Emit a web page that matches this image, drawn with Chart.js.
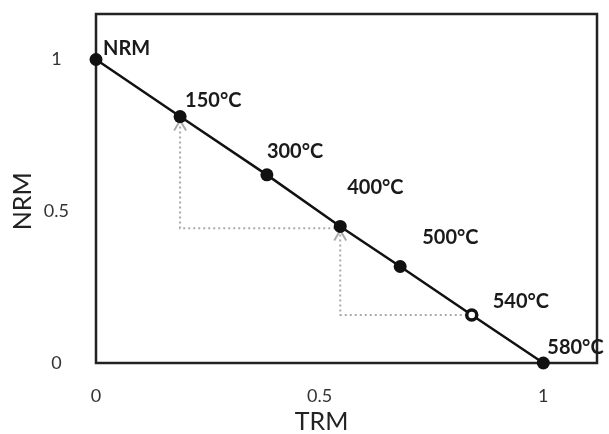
<!DOCTYPE html>
<html>
<head>
<meta charset="utf-8">
<script src="https://cdn.jsdelivr.net/npm/chart.js@4"></script>
<style>
  html, body { margin: 0; padding: 0; background: #fff; }
  #wrap { width: 609px; height: 434px; }
</style>
</head>
<body>
<div id="wrap"><canvas id="arai"></canvas></div>
<script>
// Arai plot: NRM remaining vs TRM gained at each heating step
const steps = ['NRM', '150°C', '300°C', '400°C', '500°C', '540°C', '580°C'];
const trmGained = [0, 0.188, 0.382, 0.546, 0.68, 0.84, 1];
const nrmLeft = [1, 0.812, 0.62, 0.45, 0.318, 0.158, 0];

// pTRM checks (grey dotted paths, arrow at the end)
const check540X = [0.84, 0.546, 0.546];
const check540Y = [0.158, 0.158, 0.45];
const check400X = [0.546, 0.188, 0.188];
const check400Y = [0.444, 0.444, 0.812];

const tickValues = [0, 0.5, 1];

// where each step label sits relative to its point (px)
const labelShift = [[7, -5], [5, -10], [0, -17], [7, -32], [22, -22], [21, -7], [4, -9]];

const FONT = 'Lato, "Open Sans", sans-serif';

function toPoints(xs, ys) {
    return xs.map((v, i) => ({x: v, y: ys[i]}));
}

const decor = {
    id: 'decor',
    beforeDatasetsDraw(chart) {
        const {ctx, chartArea: a, scales: {x, y}} = chart;
        ctx.save();
        ctx.strokeStyle = '#222';
        ctx.lineWidth = 2.5;
        ctx.strokeRect(a.left, a.top, a.right - a.left, a.bottom - a.top);

        // open arrow heads at the top of the check paths
        ctx.strokeStyle = '#aaa';
        ctx.lineWidth = 2;
        [[check540X, check540Y], [check400X, check400Y]].forEach(([xs, ys]) => {
            const px = x.getPixelForValue(xs[xs.length - 1]);
            const py = y.getPixelForValue(ys[ys.length - 1]) + 4;
            ctx.beginPath();
            ctx.moveTo(px - 6, py + 10);
            ctx.lineTo(px, py);
            ctx.lineTo(px + 6, py + 10);
            ctx.stroke();
        });
        ctx.restore();
    },
    afterDatasetsDraw(chart) {
        const {ctx, scales: {x, y}} = chart;
        ctx.save();
        ctx.fillStyle = '#1a1a1a';
        ctx.font = 'bold 20px ' + FONT;
        ctx.textAlign = 'left';
        ctx.textBaseline = 'alphabetic';
        steps.forEach((s, i) => {
            const px = x.getPixelForValue(trmGained[i]);
            const py = y.getPixelForValue(nrmLeft[i]);
            ctx.fillText(s, px + labelShift[i][0], py + labelShift[i][1]);
        });

        // axis titles, centred near the 0.5 ticks like the original
        ctx.font = '25px ' + FONT;
        ctx.fillStyle = '#222';
        ctx.textAlign = 'center';
        ctx.textBaseline = 'middle';
        ctx.fillText('TRM', x.getPixelForValue(0.5) + 2, 422);
        ctx.translate(23, y.getPixelForValue(0.5) - 10);
        ctx.rotate(-Math.PI / 2);
        ctx.fillText('NRM', 0, 0);
        ctx.restore();
    }
};

const ctx = document.getElementById('arai').getContext('2d');

new Chart(ctx, {
    type: 'scatter',
    data: {
        datasets: [{
            data: toPoints(trmGained, nrmLeft),
            showLine: true,
            borderColor: '#111',
            borderWidth: 2.5,
            pointRadius: [6.5, 6.5, 6.5, 6.5, 6.5, 5, 6.5],
            pointBorderWidth: [0, 0, 0, 0, 0, 3.5, 0],
            pointBackgroundColor: ['#111', '#111', '#111', '#111', '#111', '#fff', '#111'],
            pointBorderColor: '#111',
            clip: false
        }, {
            data: toPoints(check540X, check540Y),
            showLine: true,
            borderColor: '#aaa',
            borderWidth: 2,
            borderDash: [2, 3],
            pointRadius: 0,
            clip: false
        }, {
            data: toPoints(check400X, check400Y),
            showLine: true,
            borderColor: '#aaa',
            borderWidth: 2,
            borderDash: [2, 3],
            pointRadius: 0,
            clip: false
        }]
    },
    options: {
        responsive: true,
        maintainAspectRatio: false,
        animation: false,
        layout: {autoPadding: false, padding: {top: 14, right: 12, left: 0, bottom: 0}},
        plugins: {legend: {display: false}, tooltip: {enabled: false}},
        scales: {
            x: {
                min: 0,
                max: 1.12,
                afterBuildTicks: s => { s.ticks = tickValues.map(v => ({value: v})); },
                afterFit: s => { s.height = 71; s.paddingLeft = 0; s.paddingRight = 0; },
                grid: {display: false, drawTicks: false},
                border: {display: false},
                ticks: {color: '#333', padding: 22, font: {family: FONT, size: 18}, callback: v => String(v)}
            },
            y: {
                min: 0,
                max: 1.15,
                afterBuildTicks: s => { s.ticks = tickValues.map(v => ({value: v})); },
                afterFit: s => { s.width = 96; s.paddingTop = 0; s.paddingBottom = 0; },
                grid: {display: false, drawTicks: false},
                border: {display: false},
                ticks: {color: '#333', padding: 27, crossAlign: 'center', font: {family: FONT, size: 18}, callback: v => String(v)}
            }
        }
    },
    plugins: [decor]
});
</script>
</body>
</html>
